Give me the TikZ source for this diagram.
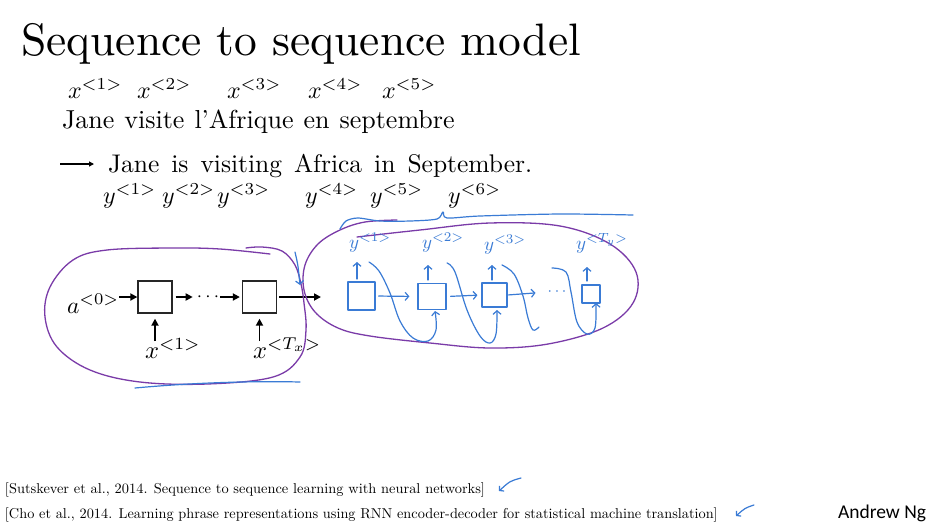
\documentclass[tikz,border=0pt]{standalone}
\usepackage{fontspec}
\usepackage{graphicx}
\newfontfamily\ngfont{Carlito}
\usetikzlibrary{arrows.meta}
\definecolor{ink}{HTML}{3A7BD5}
\definecolor{lasso}{HTML}{7A3BA8}
\newcommand\grow[2]{\scalebox{#1}{#2}}

\begin{document}
\begin{tikzpicture}[x=1pt,y=-1pt,
  txt/.style={anchor=base west, inner sep=0pt, outer sep=0pt},
  cell/.style={draw=black!85, line width=1.3pt, minimum width=34pt, minimum height=32pt, inner sep=0pt},
  flow/.style={line width=1.7pt, -{Triangle[length=7pt,width=7pt]}},
  pen/.style={draw=ink, line width=1.2pt, line cap=round, line join=round},
  penarrow/.style={pen, -{Straight Barb[length=3.5pt,width=8pt]}},
  hcell/.style={pen, rectangle, inner sep=0pt},
  loopline/.style={draw=lasso, line width=1.3pt, line cap=round, line join=round},
  hand/.style={txt, text=ink},
]
\useasboundingbox (0,0) rectangle (931,523);
\fill[white] (0,0) rectangle (931,523);

% ---------- title ----------
\node[txt] (title) at (21,55) {\grow{4.55}{Sequence to sequence model}};

% ---------- source sentence ----------
\node[txt] (x1) at (68,98)  {\grow{2.4}{$x^{<1>}$}};
\node[txt] (x2) at (137,98) {\grow{2.4}{$x^{<2>}$}};
\node[txt] (x3) at (227,98) {\grow{2.4}{$x^{<3>}$}};
\node[txt] (x4) at (308,98) {\grow{2.4}{$x^{<4>}$}};
\node[txt] (x5) at (382,98) {\grow{2.4}{$x^{<5>}$}};

\node[txt] (fw1) at (62,128)    {\grow{2.6}{Jane}};
\node[txt] (fw2) at (124.4,128) {\grow{2.6}{visite}};
\node[txt] (fw3) at (194.5,128) {\grow{2.6}{l'Afrique}};
\node[txt] (fw4) at (303.6,128) {\grow{2.6}{en}};
\node[txt] (fw5) at (339.6,128) {\grow{2.6}{septembre}};

% ---------- target sentence ----------
\coordinate (tr0) at (60,164);
\coordinate (tr1) at (94,164);
\draw[line width=1.2pt, -{Triangle[length=5pt,width=5pt]}] (tr0) -- (tr1);

\node[txt] (ew1) at (108,172)   {\grow{2.55}{Jane}};
\node[txt] (ew2) at (171.4,172) {\grow{2.55}{is}};
\node[txt] (ew3) at (200.5,172) {\grow{2.55}{visiting}};
\node[txt] (ew4) at (294.1,172) {\grow{2.55}{Africa}};
\node[txt] (ew5) at (374.2,172) {\grow{2.55}{in}};
\node[txt] (ew6) at (407.5,172) {\grow{2.55}{September.}};

\node[txt] (y1) at (103,203) {\grow{2.4}{$y^{<1>}$}};
\node[txt] (y2) at (162,203) {\grow{2.4}{$y^{<2>}$}};
\node[txt] (y3) at (217,203) {\grow{2.4}{$y^{<3>}$}};
\node[txt] (y4) at (305,203) {\grow{2.4}{$y^{<4>}$}};
\node[txt] (y5) at (370,203) {\grow{2.4}{$y^{<5>}$}};
\node[txt] (y6) at (448,203) {\grow{2.4}{$y^{<6>}$}};

% ---------- encoder ----------
\node[txt] (a0) at (67,313) {\grow{2.35}{$a^{<0>}$}};
\node[cell] (e1) at (155,297) {};
\node[inner sep=0pt, anchor=base] (edots) at (208,301.5) {\grow{1.9}{$\cdots$}};
\node[cell] (e2) at (259.5,297) {};
\coordinate (eout) at (321,297);

\draw[flow] (a0.east |- e1.west) -- (e1.west);
\draw[flow, shorten <=3pt, shorten >=4pt] (e1.east) -- (edots.west |- e1.east);
\draw[flow, shorten <=1pt, shorten >=2pt] (edots.east |- e2.west) -- (e2.west);
\draw[flow, shorten <=2pt] (e2.east) -- (eout);

\node[txt] (xin1) at (145,358) {\grow{2.45}{$x^{<1>}$}};
\node[txt] (xin2) at (253,358) {\grow{2.45}{$x^{<T_x>}$}};
\coordinate (in1) at (155,341);
\coordinate (in2) at (259.5,341);
\draw[flow, shorten >=5pt] (in1) -- (e1.south);
\draw[flow, shorten >=5pt] (in2) -- (e2.south);

% encoder lasso
\draw[loopline] plot[smooth, tension=0.6] coordinates {
  (270,254) (220,249) (173,248) (107,250) (73,260) (50,287) (45,317)
  (57,347) (90,370) (140,382) (207,384) (273,377) (300,357) (306,330)
  (304,303) (301,284) (295,265) (282,251) (262,247) (246,248)};

% ---------- decoder (pen annotations) ----------
\draw[loopline] plot[smooth, tension=0.6] coordinates {
  (357,237) (420,230) (490,223) (560,226) (610,244) (636,272) (633,303)
  (603,328) (548,344) (490,348) (430,343) (370,336) (338,328) (315,312)
  (304,290) (305,265) (318,244) (340,230) (365,222) (397,220)};

\draw[pen] plot[smooth, tension=0.5] coordinates {
  (340,229) (346,221) (358,218) (380,221) (410,221) (437,219) (443,212)
  (447,218) (480,216) (560,214) (633,215)};

\coordinate (dn0) at (295,252);
\coordinate (dn1) at (300,285);
\draw[penarrow] (dn0) .. controls (298,265) .. (dn1);

\coordinate (ul0) at (135,388);
\coordinate (ul1) at (300,382);
\draw[pen] (ul0) .. controls (200,382) and (260,381) .. (ul1);

\node[hcell, minimum width=27pt, minimum height=28pt] (d1) at (361.5,296) {};
\node[hcell, minimum width=28pt, minimum height=26pt] (d2) at (432,296.5) {};
\node[hcell, minimum width=25pt, minimum height=24pt] (d3) at (494.5,295) {};
\node[hcell, minimum width=18pt, minimum height=18pt] (d4) at (591,294) {};
\node[inner sep=0pt, text=ink] (hdots) at (557,292) {\grow{1.6}{$\cdots$}};

\draw[penarrow, shorten <=3pt, shorten >=8pt] (d1.east) -- (d2.west);
\draw[penarrow, shorten <=4pt, shorten >=4pt] (d2.east) -- (d3.west);
\draw[penarrow, shorten <=1pt, shorten >=12pt] (d3.east) -- (hdots.west);

\node[hand] (hy1) at (349,248) {\grow{1.9}{$y^{<1>}$}};
\node[hand] (hy2) at (422,248) {\grow{1.9}{$y^{<2>}$}};
\node[hand] (hy3) at (484,250) {\grow{1.9}{$y^{<3>}$}};
\node[hand] (hy4) at (576,249) {\grow{1.9}{$y^{<T_y>}$}};

\coordinate (o1a) at (357,279); \coordinate (o1b) at (357,262);
\coordinate (o2a) at (428,280); \coordinate (o2b) at (428,265);
\coordinate (o3a) at (492,280); \coordinate (o3b) at (492,265);
\coordinate (o4a) at (587,281); \coordinate (o4b) at (587,267);
\draw[penarrow] (o1a) -- (o1b);
\draw[penarrow] (o2a) -- (o2b);
\draw[penarrow] (o3a) -- (o3b);
\draw[penarrow] (o4a) -- (o4b);

% outputs fed back as next inputs
\draw[penarrow] plot[smooth, tension=0.6] coordinates {
  (369,262) (379,271) (390,293) (400,321) (413,338) (428,341) (436,330) (435,311)};
\draw[penarrow] plot[smooth, tension=0.6] coordinates {
  (447,263) (455,272) (467,310) (480,336) (490,343) (496,334) (497,310)};
\draw[pen] plot[smooth, tension=0.6] coordinates {
  (502,265) (514,274) (523,296) (528,318) (533,330) (539,327)};
\draw[penarrow] plot[smooth, tension=0.6] coordinates {
  (552,268) (566,272) (571,292) (577,322) (587,334) (595,328) (596,303)};

% ---------- references ----------
\node[txt] (ref1) at (5,493) {\scalebox{1.44}[1.43]{[Sutskever et al., 2014. Sequence to sequence learning with neural networks]}};
\node[txt] (ref2) at (5,518) {\scalebox{1.43}[1.43]{[Cho et al., 2014. Learning phrase representations using RNN encoder-decoder for statistical machine translation]}};

\coordinate (m1a) at (521,478); \coordinate (m1b) at (499,491);
\coordinate (m2a) at (754,505); \coordinate (m2b) at (736,516);
\draw[pen, -{Straight Barb[length=3pt,width=7pt]}] (m1a) .. controls (510,481) .. (m1b);
\draw[pen, -{Straight Barb[length=3pt,width=7pt]}] (m2a) .. controls (745,508) .. (m2b);

\node[txt] (sig) at (838,518) {\ngfont\fontsize{19.5}{22}\selectfont Andrew Ng};
\end{tikzpicture}
\end{document}
